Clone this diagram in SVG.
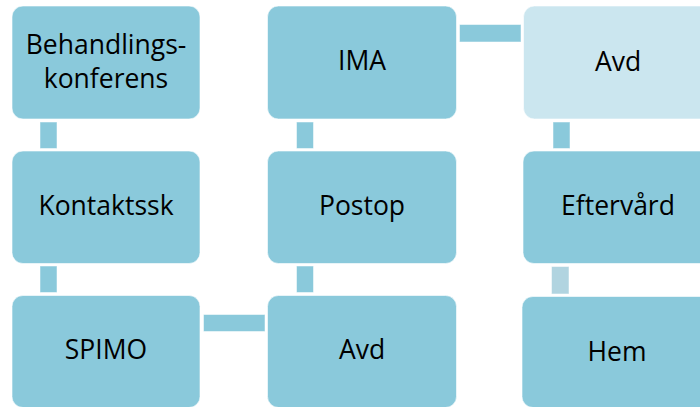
<svg xmlns="http://www.w3.org/2000/svg" width="700" height="407" viewBox="0 0 700 407">
  <style>
    .box { fill: #8AC9DB; stroke: #FFFFFF; stroke-opacity: 0.6; stroke-width: 1; }
    .box.pale { fill: #CBE6EF; }
    .link { fill: #8AC9DB; stroke: #FFFFFF; stroke-opacity: 0.5; stroke-width: 1; }
    .link.pale { fill: #B1D4E0; }
    .label { font-family: "Open Sans", "Liberation Sans", sans-serif; font-size: 26.5px; fill: #000000; text-anchor: middle; }
  </style>
  <rect width="700" height="407" fill="#FFFFFF"/>

  <!-- connectors between the process steps -->
  <g id="connectors">
    <rect class="link" x="40" y="122" width="17" height="26.5"/>
    <rect class="link" x="40" y="266" width="17" height="26.5"/>
    <rect class="link" x="203.5" y="314.5" width="61.5" height="17"/>
    <rect class="link" x="296.5" y="266" width="17" height="26.5"/>
    <rect class="link" x="296.5" y="122" width="17" height="26.5"/>
    <rect class="link" x="459.5" y="24.5" width="61.5" height="17.5"/>
    <rect class="link" x="553" y="122" width="17" height="26.5"/>
    <rect class="link pale" x="551.5" y="266.5" width="17.5" height="27.5"/>
  </g>

  <g id="behandlingskonferens">
    <rect class="box" x="12" y="6" width="188" height="113" rx="11"/>
    <text class="label" x="106" y="53.5">Behandlings-</text>
    <text class="label" x="106" y="87.5">konferens</text>
  </g>
  <g id="kontaktssk">
    <rect class="box" x="12" y="151" width="188" height="112.5" rx="11"/>
    <text class="label" x="106" y="215">Kontaktssk</text>
  </g>
  <g id="spimo">
    <rect class="box" x="12" y="295.5" width="188" height="112" rx="11"/>
    <text class="label" x="106" y="358.5">SPIMO</text>
  </g>
  <g id="avd-postop">
    <rect class="box" x="267.5" y="295.5" width="189" height="112" rx="11"/>
    <text class="label" x="362" y="358.5">Avd</text>
  </g>
  <g id="postop">
    <rect class="box" x="267.5" y="151" width="189" height="112.5" rx="11"/>
    <text class="label" x="362" y="215">Postop</text>
  </g>
  <g id="ima">
    <rect class="box" x="267.5" y="6" width="189" height="113" rx="11"/>
    <text class="label" x="362" y="70">IMA</text>
  </g>
  <g id="avd">
    <rect class="box pale" x="523.5" y="6" width="189" height="113" rx="11"/>
    <text class="label" x="618" y="70.5">Avd</text>
  </g>
  <g id="eftervard">
    <rect class="box" x="523" y="151" width="189" height="112.5" rx="11"/>
    <text class="label" x="618" y="215">Eftervård</text>
  </g>
  <g id="hem">
    <rect class="box" x="522" y="296.5" width="190" height="111" rx="11"/>
    <text class="label" x="617" y="361">Hem</text>
  </g>
</svg>
